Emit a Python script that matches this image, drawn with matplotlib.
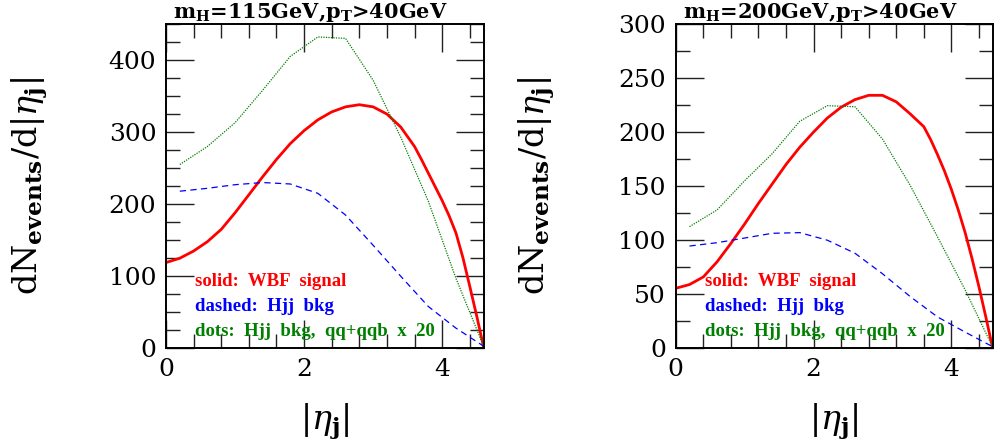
import matplotlib
matplotlib.use("Agg")
import matplotlib.pyplot as plt
from matplotlib.ticker import MultipleLocator

plt.rcParams['mathtext.fontset'] = 'custom'
plt.rcParams['mathtext.rm'] = 'DejaVu Serif'
plt.rcParams['mathtext.it'] = 'DejaVu Serif:italic'
plt.rcParams['mathtext.bf'] = 'DejaVu Serif:bold'

# ---- data ----
eta_sig = [0, 0.2, 0.4, 0.6, 0.8, 1.0, 1.2, 1.4, 1.6, 1.8, 2.0, 2.2, 2.4,
           2.6, 2.8, 3.0, 3.2, 3.4, 3.6, 3.7, 3.8, 3.9, 4.0, 4.1, 4.2, 4.3,
           4.4, 4.5, 4.6]
sig_115 = [119, 125, 135, 148, 165, 188, 213, 238, 262, 284, 302, 317, 328,
           335, 338, 335, 325, 307, 280, 262, 243, 224, 205, 184, 160, 126,
           86, 45, 2]
sig_200 = [55.5, 59, 66, 80, 97, 115, 134, 152, 170, 186, 200, 213, 223,
           230, 234, 234, 228, 217, 205, 193, 179, 164, 147, 128, 107, 83,
           57, 29, 0]

eta_bkg = [0.2, 0.6, 1.0, 1.4, 1.8, 2.2, 2.6, 3.0, 3.4, 3.8, 4.2, 4.6]
hjj_115 = [218, 222, 227, 230, 228, 215, 185, 143, 100, 58, 28, 3]
qq_115 = [255, 280, 313, 358, 405, 432, 430, 372, 293, 204, 97, 3]
hjj_200 = [94.6, 97.7, 102, 106.4, 107, 100, 88, 69, 48, 29, 15, 1.5]
qq_200 = [112.5, 128, 155, 180, 210, 224.4, 223.5, 193.6, 151, 103, 54, 1]

titles = [r'm$_\mathbf{H}$=115GeV,p$_\mathbf{T}$>40GeV',
          r'm$_\mathbf{H}$=200GeV,p$_\mathbf{T}$>40GeV']
legend_texts = ['solid:  WBF  signal', 'dashed:  Hjj  bkg',
                'dots:  Hjj  bkg,  qq+qqb  x  20']

ylims = [450, 300]
ymajor = [100, 50]

fig = plt.figure(figsize=(9.94, 4.48), dpi=100)
ax1 = fig.add_axes([0.167, 0.2225, 0.3195, 0.724])
ax2 = fig.add_axes([0.6798, 0.2225, 0.3189, 0.724])

red = '#ff0000'
blue = '#0000ff'
green = '#008000'

ylab_x = [-0.366, -0.374]

for i, (ax, sig, hjj, qq, title, ytop, ymaj) in enumerate([
        (ax1, sig_115, hjj_115, qq_115, titles[0], ylims[0], ymajor[0]),
        (ax2, sig_200, hjj_200, qq_200, titles[1], ylims[1], ymajor[1])]):
    ax.plot(eta_sig, sig, color=red, lw=2.0, solid_joinstyle='round')
    ax.plot(eta_bkg, hjj, color=blue, lw=0.9, dashes=(5, 3.5))
    ax.plot(eta_bkg, qq, color=green, lw=0.9, dashes=(1, 1))
    ax.set_xlim(0, 4.6)
    ax.set_ylim(0, ytop)
    ax.xaxis.set_major_locator(MultipleLocator(2))
    ax.xaxis.set_minor_locator(MultipleLocator(0.4))
    ax.yaxis.set_major_locator(MultipleLocator(ymaj))
    ax.yaxis.set_minor_locator(MultipleLocator(25))
    ax.tick_params(which='both', direction='in', top=True, right=True,
                   color='#222222', width=1.0)
    ax.tick_params(which='major', length=20, labelsize=18, pad=7)
    ax.tick_params(which='minor', length=10)
    for lab in ax.get_xticklabels() + ax.get_yticklabels():
        lab.set_family('DejaVu Serif')
    for sp in ax.spines.values():
        sp.set_linewidth(1.4)
    ax.set_ylabel(r'$\mathrm{dN}_{\mathbf{events}}/\mathrm{d}|\eta_{\mathbf{j}}|$',
                  fontsize=24)
    ax.yaxis.set_label_coords(ylab_x[i], 0.5)
    ax.set_xlabel(r'$|\eta_{\mathbf{j}}|$', fontsize=24)
    ax.xaxis.set_label_coords(0.5, -0.165)
    ax.text(0.022, 1.0, title, transform=ax.transAxes, ha='left', va='bottom',
            fontsize=15, fontweight='bold', family='DejaVu Serif')
    for txt, col, yy in zip(legend_texts, [red, blue, green],
                            [0.2075, 0.128, 0.053]):
        ax.text(0.091, yy, txt, transform=ax.transAxes, ha='left',
                va='center', color=col, fontsize=13.5, fontweight='bold',
                family='Liberation Serif')

fig.savefig('out.png', dpi=100)
